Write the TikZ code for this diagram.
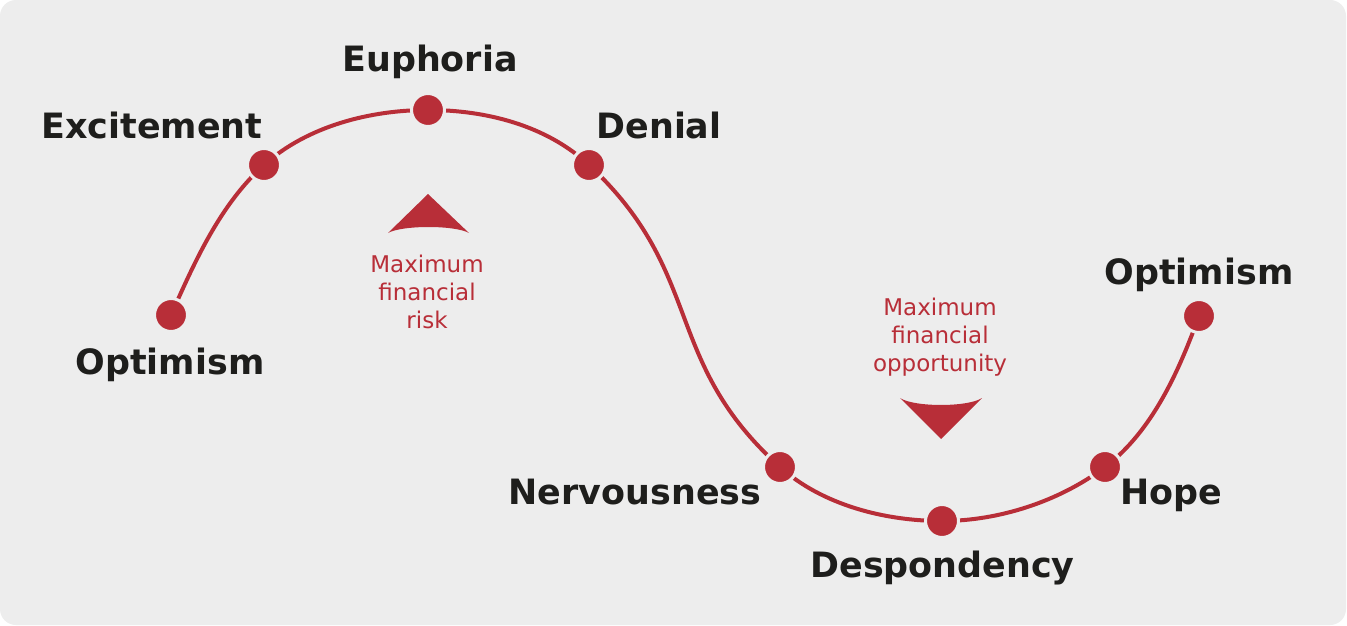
\documentclass[tikz,border=0pt]{standalone}
\usepackage{fontspec}
\setmainfont{DejaVu Sans}
\definecolor{bgc}{HTML}{EDEDED}
\definecolor{cred}{HTML}{B82E38}
\definecolor{cdark}{HTML}{1E1E1C}
\begin{document}
\begin{tikzpicture}[x=1pt,y=-1pt,
  stage/.style={font=\bfseries\fontsize{34.9}{40}\selectfont, text=cdark, anchor=base, inner sep=0pt},
  note/.style={font=\fontsize{23}{28}\selectfont, text=cred, align=center, anchor=base, inner sep=0pt},
  dot/.style={circle, fill=cred, draw=bgc, line width=3pt, minimum size=33pt, inner sep=0pt},
  curve/.style={draw=cred, line width=4pt},
  marker/.style={fill=cred}]
\useasboundingbox (0,0) rectangle (1347,626);
\fill[white] (0,0) rectangle (1347,626);
\fill[bgc, rounded corners=16pt] (0,0) rectangle (1346,625);

\coordinate (o1) at (171,315);
\coordinate (ex) at (264,165);
\coordinate (eu) at (428,110);
\coordinate (de) at (589,165);
\coordinate (ne) at (780,467);
\coordinate (ds) at (942,521);
\coordinate (ho) at (1105,467);
\coordinate (o2) at (1199,316);

\draw[curve] (o1) .. controls +(24,-54) and +(-43.8,39.5) .. (ex)
  .. controls +(43.1,-38.8) and +(-58,0) .. (eu)
  .. controls +(58,0) and +(-42.4,-39.6) .. (de)
  .. controls +(117,109.1) and +(-118.9,-107) .. (ne)
  .. controls +(42.4,38.1) and +(-57,0) .. (ds)
  .. controls +(57,0) and +(-45.5,34.3) .. (ho)
  .. controls +(47.1,-35.5) and +(-20.2,55.4) .. (o2);

\foreach \p in {o1,ex,eu,de,ne,ds,ho,o2}
  \node[dot] (dot-\p) at (\p) {};

\node[stage] (l-eu) at (430,72) {Euphoria};
\node[stage] (l-ex) at (152,138) {Excitement};
\node[stage] (l-de) at (659,138) {Denial};
\node[stage] (l-o1) at (170,374) {Optimism};
\node[stage] (l-o2) at (1199,284) {Optimism};
\node[stage] (l-ne) at (635,504) {Nervousness};
\node[stage] (l-ho) at (1171,504) {Hope};
\node[stage] (l-ds) at (942.5,577) {Despondency};

\node[note] (risk) at (427,328) {Maximum\\financial\\risk};
\node[note] (opp) at (940,371) {Maximum\\financial\\opportunity};

\fill[marker] (388,233) -- (428,194) -- (469,233) .. controls (455,225) and (402,225) .. cycle;
\fill[marker] (900,398) -- (941,439) -- (982,398) .. controls (968,407.3) and (914,407.3) .. cycle;
\end{tikzpicture}
\end{document}
